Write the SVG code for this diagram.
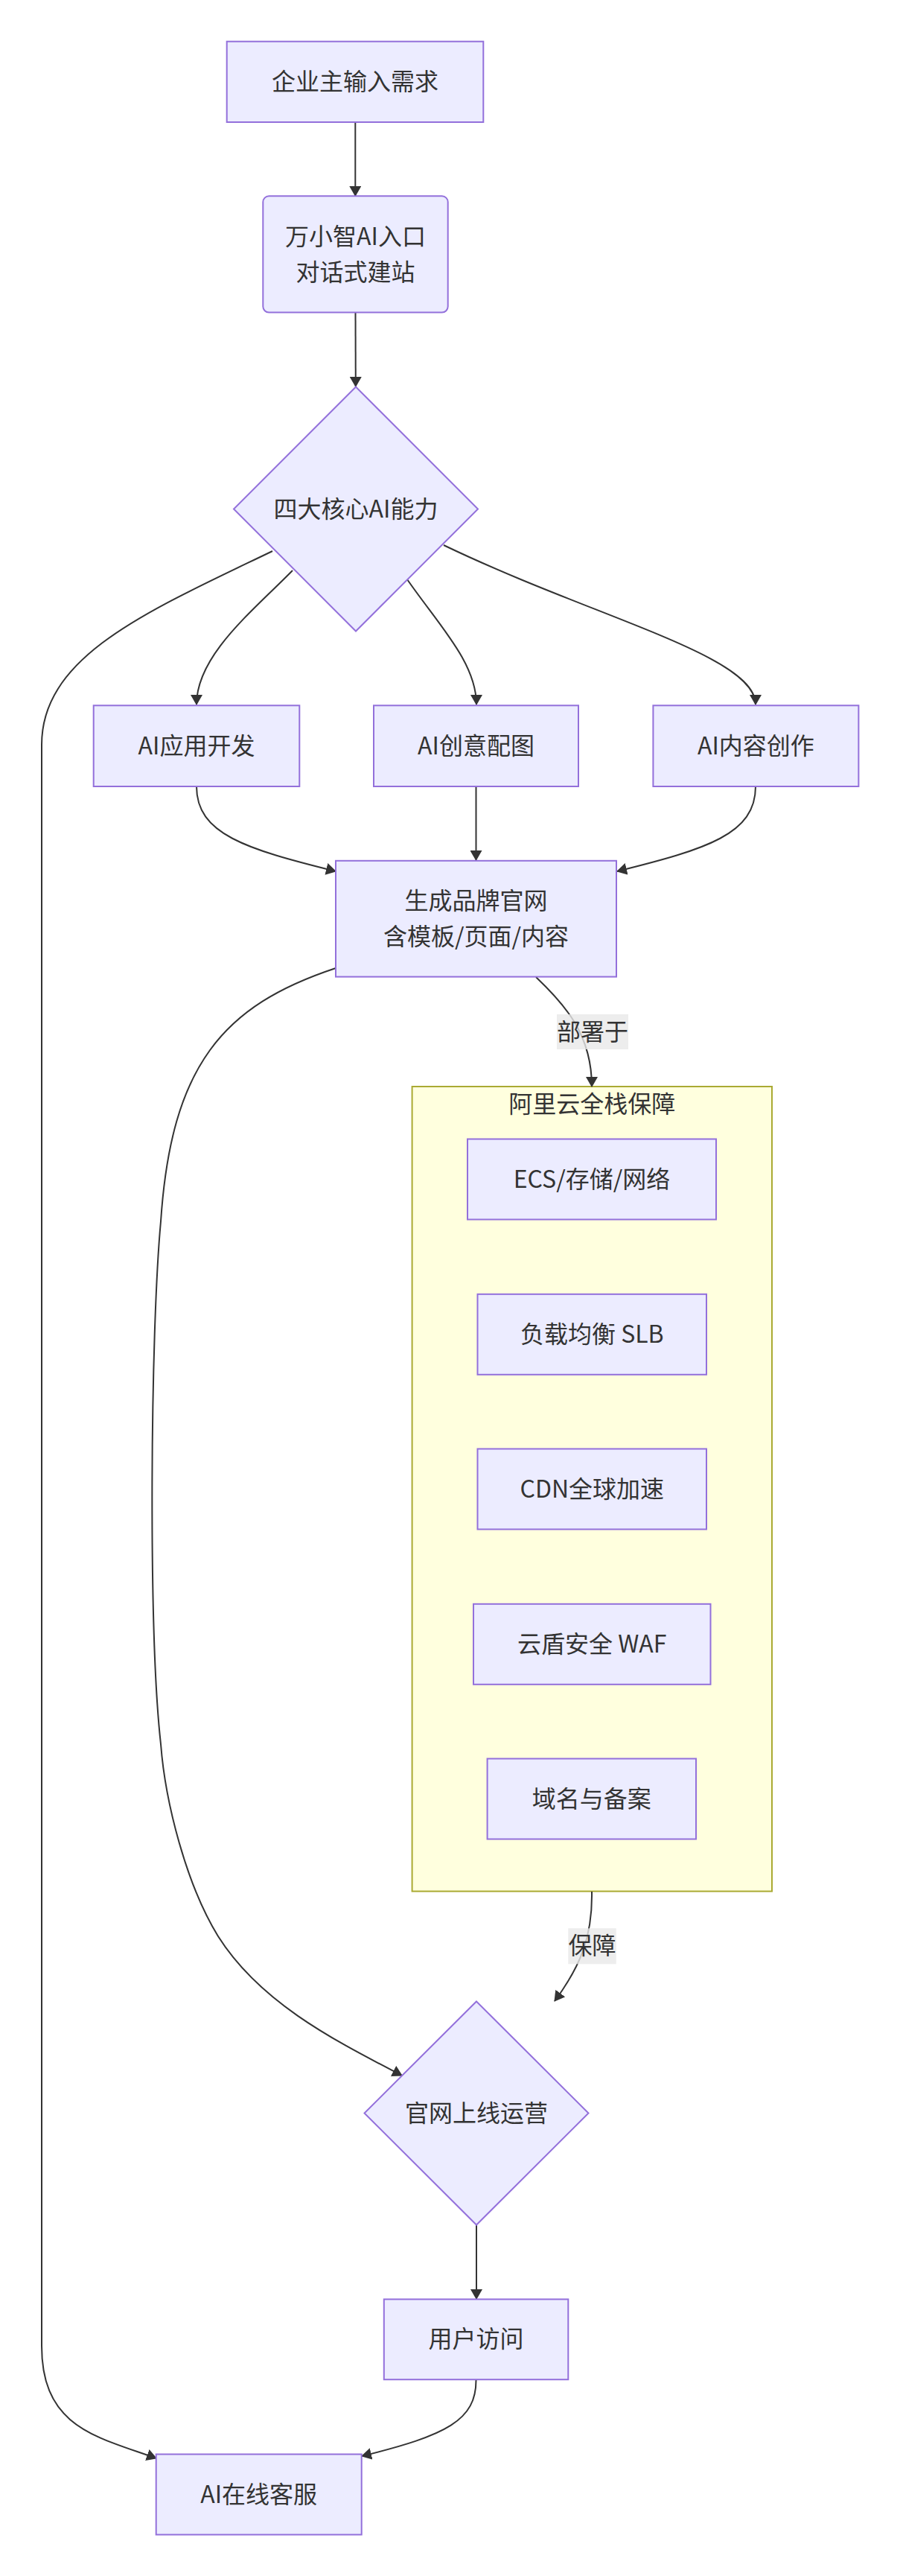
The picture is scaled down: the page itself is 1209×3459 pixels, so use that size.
<svg xmlns="http://www.w3.org/2000/svg" width="1209" height="3459" viewBox="0 0 1209 3459">
<defs>
<style>
.node{fill:#ECECFF;stroke:#9370DB;stroke-width:2}
.cluster{fill:#ffffde;stroke:#aaaa33;stroke-width:2}
.t{font-family:"Noto Sans CJK SC","Noto Sans",sans-serif;font-size:32px;fill:#333333;text-anchor:middle}
.edge{fill:none;stroke:#333333;stroke-width:2}
.lbl{fill:#e8e8e8;fill-opacity:0.8}
</style>
<marker id="arr" viewBox="0 0 14 16" refX="13" refY="8" markerWidth="14" markerHeight="16" markerUnits="userSpaceOnUse" orient="auto"><path d="M0,0 L14,8 L0,16 z" fill="#333333"/></marker>
</defs>
<rect x="0" y="0" width="1209" height="3459" fill="#ffffff"/>

<g id="cluster-aliyun">
<rect class="cluster" x="553.6" y="1459" width="483.4" height="1080.6"/>
<text class="t" x="795.3" y="1494">阿里云全栈保障</text>
</g>

<g id="edges">
<path class="edge" marker-end="url(#arr)" d="M477.3,164 L477.3,263"/>
<path class="edge" marker-end="url(#arr)" d="M477.5,419.6 L477.8,519"/>
<path class="edge" marker-end="url(#arr)" d="M393,766 C340,820 264,880 264,946"/>
<path class="edge" marker-end="url(#arr)" d="M547,778 C590,840 640,890 640,946"/>
<path class="edge" marker-end="url(#arr)" d="M596,732 C800,830 1015,880 1015,946"/>
<path class="edge" marker-end="url(#arr)" d="M366,740 C200,820 56,880 56,1000 L56,3150 C56,3260 130,3272 210,3301"/>
<path class="edge" marker-end="url(#arr)" d="M264,1056 C264,1120 330,1140 451,1170"/>
<path class="edge" marker-end="url(#arr)" d="M639.5,1056 L639.5,1155"/>
<path class="edge" marker-end="url(#arr)" d="M1015,1056 C1015,1120 950,1140 829,1170"/>
<path class="edge" marker-end="url(#arr)" d="M451,1300 C300,1350 230,1430 216,1640 C202,1790 199,2190 216,2342 C222,2420 250,2530 293,2600 C350,2690 450,2740 540,2787"/>
<path class="edge" marker-end="url(#arr)" d="M720,1312 C760,1350 795,1390 795,1459"/>
<path class="edge" marker-end="url(#arr)" d="M795,2540 C796,2600 780,2640 745,2687"/>
<path class="edge" marker-end="url(#arr)" d="M640,2987 L640,3087"/>
<path class="edge" marker-end="url(#arr)" d="M639.5,3195 C640,3250 600,3270 486,3298"/>
<rect class="lbl" x="748" y="1362" width="96" height="47"/>
<text class="t" x="796" y="1397">部署于</text>
<rect class="lbl" x="763.3" y="2589.3" width="64.4" height="48"/>
<text class="t" x="795.5" y="2624">保障</text>
</g>

<g id="node-input">
<rect class="node" x="304.7" y="55.7" width="344.6" height="108.3"/>
<text class="t" x="477" y="121">企业主输入需求</text>
</g>

<g id="node-wanxiaozhi">
<rect class="node" x="353.3" y="263.3" width="248.4" height="156.3" rx="8" ry="8"/>
<text class="t" x="477.5" y="328.5">万小智AI入口</text>
<text class="t" x="477.5" y="376.5">对话式建站</text>
</g>

<g id="node-core">
<polygon class="node" points="478,519.5 642,683.5 478,847.5 314,683.5"/>
<text class="t" x="478" y="695">四大核心AI能力</text>
</g>

<g id="node-appdev">
<rect class="node" x="125.7" y="947.3" width="276.6" height="108.7"/>
<text class="t" x="264" y="1013">AI应用开发</text>
</g>

<g id="node-image">
<rect class="node" x="502" y="947.3" width="275" height="108.7"/>
<text class="t" x="639.5" y="1013">AI创意配图</text>
</g>

<g id="node-content">
<rect class="node" x="877.4" y="947.3" width="276" height="108.7"/>
<text class="t" x="1015.4" y="1013">AI内容创作</text>
</g>

<g id="node-site">
<rect class="node" x="451" y="1155.8" width="377" height="155.8"/>
<text class="t" x="639.5" y="1220.7">生成品牌官网</text>
<text class="t" x="639.5" y="1268.7">含模板/页面/内容</text>
</g>

<g id="node-ecs">
<rect class="node" x="628" y="1529.5" width="334" height="108"/>
<text class="t" x="795" y="1595">ECS/存储/网络</text>
</g>

<g id="node-slb">
<rect class="node" x="641.5" y="1737.8" width="307.5" height="108"/>
<text class="t" x="795.3" y="1803">负载均衡 SLB</text>
</g>

<g id="node-cdn">
<rect class="node" x="641.5" y="1945.5" width="307.5" height="108"/>
<text class="t" x="795.3" y="2011">CDN全球加速</text>
</g>

<g id="node-waf">
<rect class="node" x="636" y="2153.8" width="318.5" height="108"/>
<text class="t" x="795.3" y="2219">云盾安全 WAF</text>
</g>

<g id="node-domain">
<rect class="node" x="654.6" y="2361.5" width="280.4" height="108"/>
<text class="t" x="794.8" y="2427">域名与备案</text>
</g>

<g id="node-online">
<polygon class="node" points="640,2687.5 790.5,2837.5 640,2987.5 489.5,2837.5"/>
<text class="t" x="640" y="2848.5">官网上线运营</text>
</g>

<g id="node-visit">
<rect class="node" x="515.8" y="3087.4" width="247.5" height="107.8"/>
<text class="t" x="639.5" y="3152">用户访问</text>
</g>

<g id="node-service">
<rect class="node" x="209.7" y="3295.5" width="276" height="108"/>
<text class="t" x="347.7" y="3360.5">AI在线客服</text>
</g>
</svg>
